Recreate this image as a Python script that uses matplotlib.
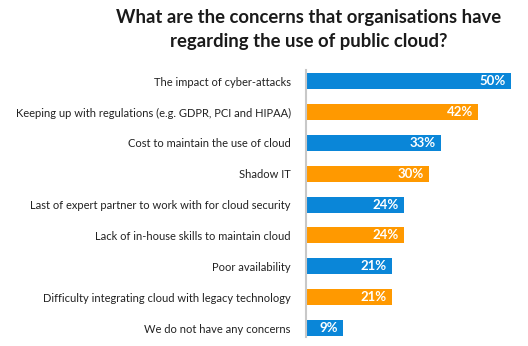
import matplotlib
matplotlib.use("Agg")
import matplotlib.pyplot as plt

CATEGORIES = [
    "The impact of cyber-attacks",
    "Keeping up with regulations (e.g. GDPR, PCI and HIPAA)",
    "Cost to maintain the use of cloud",
    "Shadow IT",
    "Last of expert partner to work with for cloud security",
    "Lack of in-house skills to maintain cloud",
    "Poor availability",
    "Difficulty integrating cloud with legacy technology",
    "We do not have any concerns",
]
VALUES = [50, 42, 33, 30, 24, 24, 21, 21, 9]

BLUE = "#0a86d8"
ORANGE = "#ff9900"
COLORS = [BLUE if i % 2 == 0 else ORANGE for i in range(len(VALUES))]

plt.rcParams["font.family"] = ["Lato", "DejaVu Sans"]

W, H = 528, 346
fig = plt.figure(figsize=(W / 100, H / 100), dpi=100)
fig.patch.set_facecolor("white")

# axes placed in pixel terms: x 0..50 -> 306..511 px, axis line y 70..337 px
ax = fig.add_axes([306 / W, (H - 337) / H, 205 / W, 267 / H])
y = list(range(len(VALUES)))
bars = ax.barh(y, VALUES, height=0.52, color=COLORS)

for bar, val in zip(bars, VALUES):
    ax.text(bar.get_width() - 1.3, bar.get_y() + bar.get_height() / 2,
            f"{val}%", ha="right", va="center", color="white",
            fontsize=9.5, fontweight="bold")

ax.set_xlim(0, 50)
ax.set_ylim(8.29, -0.36)
ax.set_yticks(y)
ax.set_yticklabels(CATEGORIES, fontsize=8.0, color="#222222")
ax.tick_params(axis="y", length=0, pad=11)
ax.set_xticks([])
for side in ["top", "right", "bottom"]:
    ax.spines[side].set_visible(False)
ax.spines["left"].set_color("#c8c8c8")
ax.spines["left"].set_linewidth(1.5)
ax.patch.set_alpha(0)

fig.text(309 / W, 1 - 17 / H, "What are the concerns that organisations have",
         ha="center", va="center", fontsize=13.3, fontweight="bold", color="#1a1a1a")
fig.text(309 / W, 1 - 42 / H, "regarding the use of public cloud?",
         ha="center", va="center", fontsize=13.3, fontweight="bold", color="#1a1a1a")

fig.savefig("out.png", dpi=100)
